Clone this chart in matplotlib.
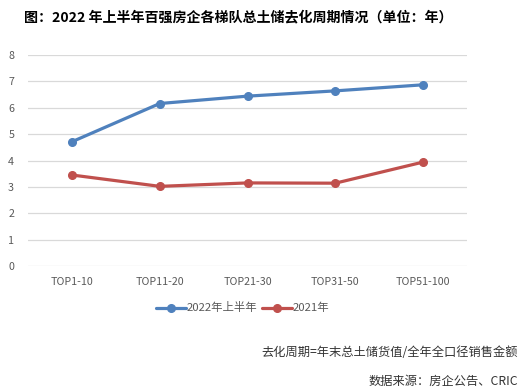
import matplotlib
matplotlib.use("Agg")
import matplotlib.pyplot as plt

plt.rcParams['font.family'] = ['Noto Sans CJK SC', 'DejaVu Sans']

categories = ["TOP1-10", "TOP11-20", "TOP21-30", "TOP31-50", "TOP51-100"]
series_2022h1 = [4.71, 6.16, 6.44, 6.64, 6.87]
series_2021 = [3.45, 3.02, 3.15, 3.14, 3.94]
yticks = [0, 1, 2, 3, 4, 5, 6, 7, 8]

fig = plt.figure(figsize=(5.24, 3.91), dpi=100)
ax = fig.add_axes([28/524, 1-266/391, (467-28)/524, (266-55)/391])

x = list(range(len(categories)))
ax.plot(x, series_2022h1, color='#4F81BD', lw=2.3, marker='o', ms=5.5, label='2022年上半年',
        solid_capstyle='round', zorder=3)
ax.plot(x, series_2021, color='#C0504D', lw=2.3, marker='o', ms=5.5, label='2021年',
        solid_capstyle='round', zorder=3)

ax.set_xlim(-0.5, len(categories)-0.5)
ax.set_ylim(0, 8)
ax.set_yticks(yticks)
ax.set_xticks(x)
ax.set_xticklabels(categories)
ax.grid(axis='y', color='#D9D9D9', lw=0.9)
ax.set_axisbelow(True)
for s in ax.spines.values():
    s.set_visible(False)
ax.tick_params(axis='both', length=0, labelsize=7.7, labelcolor='#595959')
ax.tick_params(axis='x', pad=8)
ax.tick_params(axis='y', pad=10)

fig.text(24/524, 1-17/391, "图：2022 年上半年百强房企各梯队总土储去化周期情况（单位：年）",
         fontsize=10.1, fontweight='bold', va='center', ha='left', color='#000000')

leg = ax.legend(loc='center', bbox_to_anchor=(243/524, 1-308/391), bbox_transform=fig.transFigure,
                ncol=2, frameon=False, fontsize=8.2, handlelength=2.6, columnspacing=0.4,
                handletextpad=0.1, labelcolor='#595959')

fig.text(518/524, 1-352/391, "去化周期=年末总土储货值/全年全口径销售金额",
         fontsize=8.8, ha='right', va='center', color='#333333')
fig.text(518/524, 1-381/391, "数据来源：房企公告、CRIC",
         fontsize=8.8, ha='right', va='center', color='#333333')

fig.savefig("out.png", dpi=100)
